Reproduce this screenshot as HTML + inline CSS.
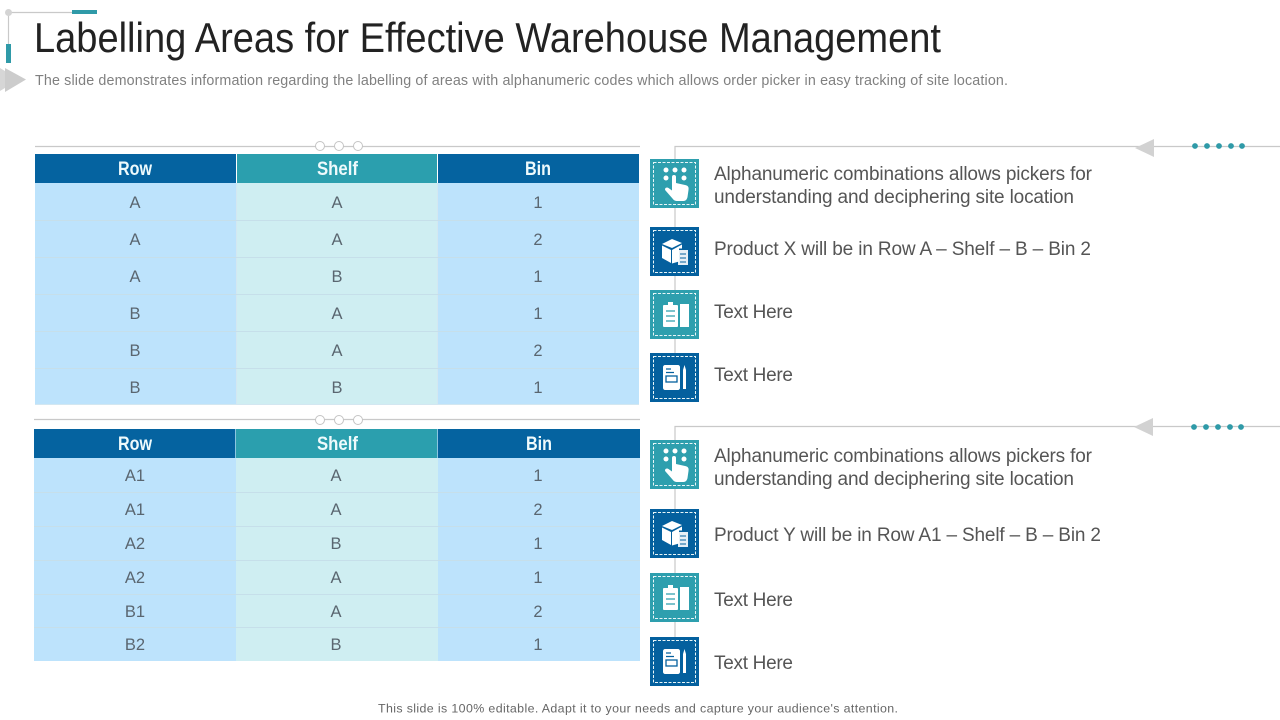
<!DOCTYPE html>
<html lang="en">
<head>
<meta charset="utf-8">
<title>Labelling Areas for Effective Warehouse Management</title>
<style>
html,body{margin:0;padding:0;background:#fff;width:1280px;height:720px;overflow:hidden}
svg{display:block}
text{font-family:"Liberation Sans",Arial,sans-serif}
.h{font-weight:700;font-size:19px;fill:#eefafc}
.c{font-size:16.5px;fill:#5a6670;text-anchor:middle}
.b{font-size:19px;fill:#555}
.d{fill:none;stroke:#e8f6f8;stroke-width:1;stroke-dasharray:3 1.500}
.g{fill:#fff}
.ln{stroke:#c9c9c9;stroke-width:1.200;fill:none}
.o{fill:#fff;stroke:#c4c4c4;stroke-width:1}
.dot{fill:#2f9aa8}
.ar{fill:#d2d2d2}
</style>
</head>
<body>
<svg width="1280" height="720" viewBox="0 0 1280 720" xmlns="http://www.w3.org/2000/svg">
<defs>
<g id="i-hand">
  <circle cx="-9" cy="-14" r="2.500" class="g"/><circle cx="0" cy="-14" r="2.500" class="g"/><circle cx="9" cy="-14" r="2.500" class="g"/>
  <circle cx="-9" cy="-6" r="2.500" class="g"/><circle cx="9" cy="-6" r="2.500" class="g"/>
  <path class="g" d="M-3 -7a2 2 0 0 1 4 0v6l9 2c3 .5 4 2 3.500 5l-1 7c-.5 2.500-2 4-4 4h-6c-2.500 0-4-1-5-2.500l-7-8c-1.500-2 1-4 3-2.500l3.500 2.500z"/>
</g>
<g id="i-box">
  <path class="g" d="M-13 -8l10-5 10 4-10 5z"/>
  <path class="g" d="M-13 -6.500l9 4.500v13l-9-5z"/>
  <path class="g" d="M-3 -2l10-5.500v4h-3v13l-7 2z"/>
  <rect x="3" y="-2" width="10" height="15" class="g" opacity="0.9"/>
  <path d="M5 2h6M5 6h6M5 10h6" stroke="#04609e" stroke-width="1"/>
</g>
<g id="i-clip">
  <rect x="-12" y="-9" width="15" height="22" rx="1" class="g"/>
  <rect x="-7" y="-12" width="5" height="4" class="g"/>
  <path class="g" d="M5 -10h9v23h-9z"/>
  <path d="M-9 -3h9M-9 2h9M-9 7h9" stroke="#2e9fae" stroke-width="1.300"/>
</g>
<g id="i-note">
  <path class="g" d="M-10 -12h13c1 0 2 1 2 2v21c0 1-1 2-2 2h-13c-1 0-2-1-2-2v-21c0-1 1-2 2-2z"/>
  <rect x="-9" y="-1" width="11" height="6" fill="none" stroke="#04609e" stroke-width="1.300"/>
  <path d="M-9 -8h5M-9 -4.500h8" stroke="#04609e" stroke-width="1.300"/>
  <path class="g" d="M8 -7l1.500-5 1.500 5v19h-3z"/>
</g>
</defs>

<!-- header decoration -->
<g>
  <path class="ln" d="M8 12.500H74M8.500 12V44"/>
  <circle cx="8.500" cy="12.500" r="3.500" fill="#d4d4d4"/>
  <rect x="72" y="10" width="25" height="4" fill="#2f9aa8"/>
  <rect x="6" y="44" width="5" height="19" fill="#2f9aa8"/>
  <polygon points="0,68 19,79.500 0,91" fill="#d6d6d6"/>
  <polygon points="5,68 26,79.500 5,92" fill="#cccccc"/>
</g>
<text x="34" y="52" font-size="42" fill="#222" textLength="907" lengthAdjust="spacingAndGlyphs">Labelling Areas for Effective Warehouse Management</text>
<text x="35" y="85" font-size="14.300" fill="#808080" textLength="973">The slide demonstrates information regarding the labelling of areas with alphanumeric codes which allows order picker in easy tracking of site location.</text>

<!-- table 1 -->
<g>
  <line x1="35" y1="146.500" x2="640" y2="146.500" class="ln"/>
  <circle cx="320" cy="146" r="4.500" class="o"/><circle cx="339" cy="146" r="4.500" class="o"/><circle cx="358" cy="146" r="4.500" class="o"/>
</g>
<g>
  <rect x="35" y="183" width="604" height="222" fill="#d3e7f1"/>
  <rect x="35" y="154" width="201" height="29" fill="#0563a0"/>
  <rect x="237" y="154" width="200" height="29" fill="#2b9fae"/>
  <rect x="438" y="154" width="201" height="29" fill="#0563a0"/>
  <rect x="35" y="183" width="201" height="221" fill="#bde3fc"/>
  <rect x="237" y="183" width="200" height="221" fill="#cfeef2"/>
  <rect x="438" y="183" width="201" height="221" fill="#bde3fc"/>
  <path d="M35 220.500H639M35 257.500H639M35 294.500H639M35 331.500H639M35 368.500H639" stroke="#c6dfea" stroke-width="1"/>
  <text class="h" x="118" y="175" textLength="34" lengthAdjust="spacingAndGlyphs">Row</text>
  <text class="h" x="317" y="175" textLength="41" lengthAdjust="spacingAndGlyphs">Shelf</text>
  <text class="h" x="525" y="175" textLength="26" lengthAdjust="spacingAndGlyphs">Bin</text>
  <g>
  <text class="c" x="135" y="208">A</text><text class="c" x="337" y="208">A</text><text class="c" x="538" y="208">1</text>
  <text class="c" x="135" y="245">A</text><text class="c" x="337" y="245">A</text><text class="c" x="538" y="245">2</text>
  <text class="c" x="135" y="282">A</text><text class="c" x="337" y="282">B</text><text class="c" x="538" y="282">1</text>
  <text class="c" x="135" y="319">B</text><text class="c" x="337" y="319">A</text><text class="c" x="538" y="319">1</text>
  <text class="c" x="135" y="356">B</text><text class="c" x="337" y="356">A</text><text class="c" x="538" y="356">2</text>
  <text class="c" x="135" y="393">B</text><text class="c" x="337" y="393">B</text><text class="c" x="538" y="393">1</text>
  </g>
</g>

<!-- table 2 -->
<g>
  <line x1="34" y1="419.500" x2="640" y2="419.500" class="ln"/>
  <circle cx="320" cy="420" r="4.500" class="o"/><circle cx="339" cy="420" r="4.500" class="o"/><circle cx="358" cy="420" r="4.500" class="o"/>
</g>
<g>
  <rect x="34" y="429" width="606" height="29" fill="#8cc6e0"/>
  <rect x="34" y="429" width="201" height="29" fill="#0563a0"/>
  <rect x="236" y="429" width="201" height="29" fill="#2b9fae"/>
  <rect x="438" y="429" width="202" height="29" fill="#0563a0"/>
  <rect x="34" y="458" width="202" height="203" fill="#bde3fc"/>
  <rect x="236" y="458" width="202" height="203" fill="#cfeef2"/>
  <rect x="438" y="458" width="202" height="203" fill="#bde3fc"/>
  <path d="M34 492.500H640M34 526.500H640M34 560.500H640M34 594.500H640M34 627.500H640" stroke="#c6dfea" stroke-width="1"/>
  <text class="h" x="118" y="450" textLength="34" lengthAdjust="spacingAndGlyphs">Row</text>
  <text class="h" x="317" y="450" textLength="41" lengthAdjust="spacingAndGlyphs">Shelf</text>
  <text class="h" x="526" y="450" textLength="26" lengthAdjust="spacingAndGlyphs">Bin</text>
  <g>
  <text class="c" x="135" y="481">A1</text><text class="c" x="336" y="481">A</text><text class="c" x="538" y="481">1</text>
  <text class="c" x="135" y="515">A1</text><text class="c" x="336" y="515">A</text><text class="c" x="538" y="515">2</text>
  <text class="c" x="135" y="549">A2</text><text class="c" x="336" y="549">B</text><text class="c" x="538" y="549">1</text>
  <text class="c" x="135" y="583">A2</text><text class="c" x="336" y="583">A</text><text class="c" x="538" y="583">1</text>
  <text class="c" x="135" y="617">B1</text><text class="c" x="336" y="617">A</text><text class="c" x="538" y="617">2</text>
  <text class="c" x="135" y="650">B2</text><text class="c" x="336" y="650">B</text><text class="c" x="538" y="650">1</text>
  </g>
</g>

<!-- connectors -->
<g>
  <path class="ln" d="M675 402V146.500H1280"/>
  <polygon class="ar" points="1135,148 1154,139 1154,157"/>
  <circle class="dot" cx="1195" cy="146" r="2.900"/><circle class="dot" cx="1207" cy="146" r="2.900"/><circle class="dot" cx="1219" cy="146" r="2.900"/><circle class="dot" cx="1231" cy="146" r="2.900"/><circle class="dot" cx="1242" cy="146" r="2.900"/>
</g>
<g>
  <path class="ln" d="M675 686V426.500H1280"/>
  <polygon class="ar" points="1134,427 1153,418 1153,436"/>
  <circle class="dot" cx="1194" cy="427" r="2.900"/><circle class="dot" cx="1206" cy="427" r="2.900"/><circle class="dot" cx="1218" cy="427" r="2.900"/><circle class="dot" cx="1230" cy="427" r="2.900"/><circle class="dot" cx="1241" cy="427" r="2.900"/>
</g>

<!-- icon tiles, top -->
<g><rect x="650" y="159" width="49" height="49" fill="#2e9fae"/><rect class="d" x="653.500" y="162.500" width="42" height="42"/><use href="#i-hand" x="675" y="184"/></g>
<g><rect x="650" y="227" width="49" height="49" fill="#04609e"/><rect class="d" x="653.500" y="230.500" width="42" height="42"/><use href="#i-box" x="675" y="252"/></g>
<g><rect x="650" y="290" width="49" height="49" fill="#2e9fae"/><rect class="d" x="653.500" y="293.500" width="42" height="42"/><use href="#i-clip" x="675" y="314"/></g>
<g><rect x="650" y="353" width="49" height="49" fill="#04609e"/><rect class="d" x="653.500" y="356.500" width="42" height="42"/><use href="#i-note" x="675" y="377"/></g>

<!-- icon tiles, bottom -->
<g><rect x="650" y="440" width="49" height="49" fill="#2e9fae"/><rect class="d" x="653.500" y="443.500" width="42" height="42"/><use href="#i-hand" x="675" y="465"/></g>
<g><rect x="650" y="509" width="49" height="49" fill="#04609e"/><rect class="d" x="653.500" y="512.500" width="42" height="42"/><use href="#i-box" x="675" y="534"/></g>
<g><rect x="650" y="573" width="49" height="49" fill="#2e9fae"/><rect class="d" x="653.500" y="576.500" width="42" height="42"/><use href="#i-clip" x="675" y="597"/></g>
<g><rect x="650" y="637" width="49" height="49" fill="#04609e"/><rect class="d" x="653.500" y="640.500" width="42" height="42"/><use href="#i-note" x="675" y="661"/></g>

<!-- text blocks, top -->
<text class="b" x="714" y="180" textLength="378">Alphanumeric combinations allows pickers for</text>
<text class="b" x="714" y="203" textLength="360">understanding and deciphering site location</text>
<text class="b" x="714" y="255" textLength="377">Product X will be in Row A – Shelf – B – Bin 2</text>
<text class="b" x="714" y="318" textLength="79">Text Here</text>
<text class="b" x="714" y="381" textLength="79">Text Here</text>

<!-- text blocks, bottom -->
<text class="b" x="714" y="462" textLength="378">Alphanumeric combinations allows pickers for</text>
<text class="b" x="714" y="485" textLength="360">understanding and deciphering site location</text>
<text class="b" x="714" y="541" textLength="387">Product Y will be in Row A1 – Shelf – B – Bin 2</text>
<text class="b" x="714" y="606" textLength="79">Text Here</text>
<text class="b" x="714" y="669" textLength="79">Text Here</text>

<text x="378" y="712.500" font-size="12.400" fill="#666" textLength="520">This slide is 100% editable. Adapt it to your needs and capture your audience's attention.</text>
</svg>
</body>
</html>
